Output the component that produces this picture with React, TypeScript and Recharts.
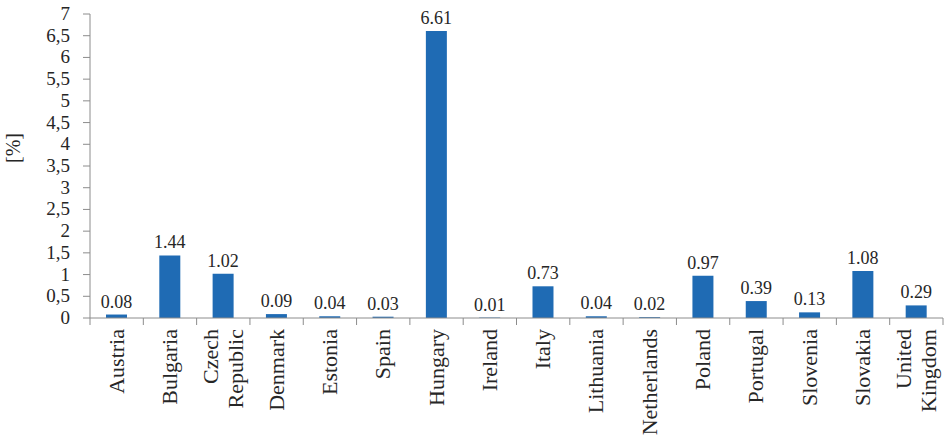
import { Bar, BarChart, LabelList, XAxis, YAxis } from 'recharts';

const countries = [
  'Austria',
  'Bulgaria',
  'Czech\nRepublic',
  'Denmark',
  'Estonia',
  'Spain',
  'Hungary',
  'Ireland',
  'Italy',
  'Lithuania',
  'Netherlands',
  'Poland',
  'Portugal',
  'Slovenia',
  'Slovakia',
  'United\nKingdom'
];

const shares = [0.08, 1.44, 1.02, 0.09, 0.04, 0.03, 6.61, 0.01, 0.73, 0.04, 0.02, 0.97, 0.39, 0.13, 1.08, 0.29];

const yTicks = [0, 0.5, 1, 1.5, 2, 2.5, 3, 3.5, 4, 4.5, 5, 5.5, 6, 6.5, 7];

const data = countries.map((country, i) => ({ country, value: shares[i] }));

const FONT = '"Liberation Serif", "Times New Roman", serif';
const AXIS = '#8c8c8c';
const TEXT = '#262626';

function CountryTick(props: any) {
  const { x, y, payload, index, visibleTicksCount } = props;
  const band = 853 / countries.length;
  const lines: string[] = String(payload.value).split('\n');
  const lineGap = 25;
  return (
    <g>
      <line stroke={AXIS} x1={x - band / 2} x2={x - band / 2} y1={y - 8} y2={y - 1} />
      {index === visibleTicksCount - 1 && (
        <line stroke={AXIS} x1={x + band / 2} x2={x + band / 2} y1={y - 8} y2={y - 1} />
      )}
      <g transform={`translate(${x},${y + 3}) rotate(-90)`}>
        <text fill={TEXT} fontFamily={FONT} fontSize={22} textAnchor='end'>
          {lines.map((line, i) => (
            <tspan
              dy={i === 0 ? -((lines.length - 1) * lineGap) / 2 + 7 : lineGap}
              key={line}
              x={0}
            >
              {line}
            </tspan>
          ))}
        </text>
      </g>
    </g>
  );
}

function ValueTick(props: any) {
  const { x, y, payload } = props;
  return (
    <text fill={TEXT} fontFamily={FONT} fontSize={19} textAnchor='end' x={x - 3} y={y + 6}>
      {String(payload.value).replace('.', ',')}
    </text>
  );
}

function PercentLabel(props: any) {
  const { viewBox } = props;
  const cx = viewBox.x + 13;
  const cy = viewBox.y + viewBox.height / 2 - 18;
  return (
    <text
      fill={TEXT}
      fontFamily={FONT}
      fontSize={20}
      textAnchor='middle'
      transform={`rotate(-90, ${cx}, ${cy})`}
      x={cx}
      y={cy + 7}
    >
      [%]
    </text>
  );
}

export default function App() {
  return (
    <div style={{ position: 'absolute', left: 0, top: 0, background: '#fff', fontFamily: FONT }}>
      <BarChart
        barCategoryGap='30%'
        data={data}
        height={438}
        margin={{ top: 14, right: 1, left: 0, bottom: 0 }}
        width={944}
      >
        <XAxis
          axisLine={{ stroke: AXIS }}
          dataKey='country'
          height={120}
          interval={0}
          tick={<CountryTick />}
          tickLine={false}
        />
        <YAxis
          axisLine={{ stroke: AXIS }}
          domain={[0, 7]}
          interval={0}
          label={<PercentLabel />}
          tick={<ValueTick />}
          tickLine={{ stroke: AXIS }}
          tickMargin={10}
          tickSize={7}
          ticks={yTicks}
          width={90}
        />
        <Bar dataKey='value' fill='#1f6bb4' isAnimationActive={false}>
          <LabelList
            dataKey='value'
            fill={TEXT}
            fontFamily={FONT}
            fontSize={18}
            formatter={(v: any) => Number(v).toFixed(2)}
            offset={7}
            position='top'
          />
        </Bar>
      </BarChart>
    </div>
  );
}
